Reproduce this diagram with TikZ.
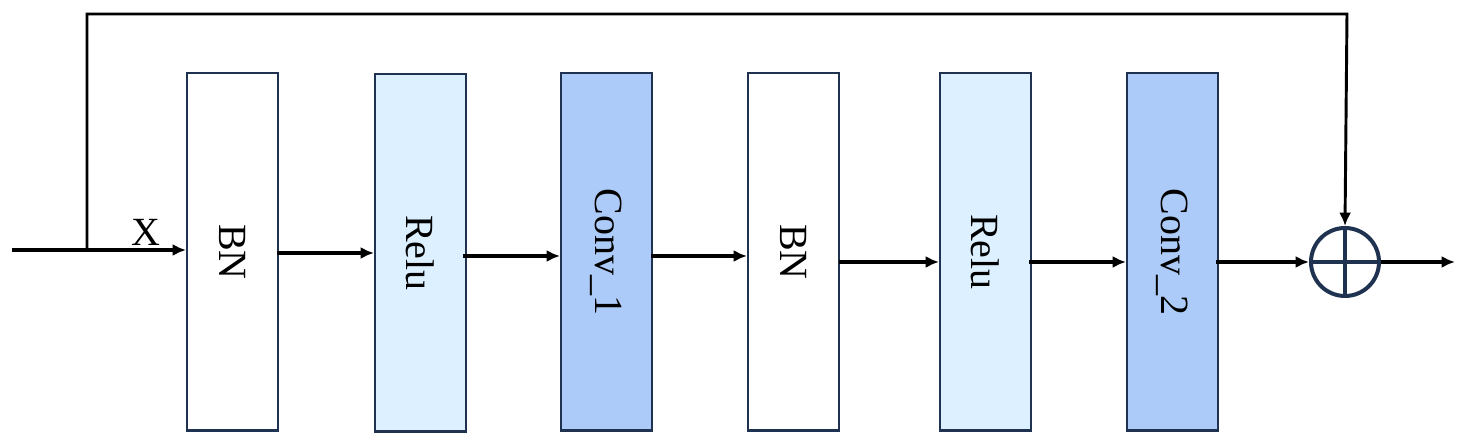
\documentclass[tikz,border=0pt]{standalone}
\usepackage{fontspec}
\setmainfont{Liberation Serif}
\usetikzlibrary{arrows.meta}
\definecolor{edge}{HTML}{1F3350}
\definecolor{lb}{HTML}{DDF0FF}
\definecolor{cb}{HTML}{ADCBF8}
\begin{document}
\begin{tikzpicture}[x=0.75pt,y=-0.75pt,
  blk/.style={draw=edge,line width=1.8pt,minimum width=68pt,minimum height=268pt,anchor=north west,inner sep=0pt},
  lab/.style={rotate=-90,font=\fontsize{30}{32}\selectfont},
  arr/.style={line width=3pt,-{Latex[length=10pt,width=9pt]}},
  ln/.style={line width=3pt}]
\useasboundingbox (0,0) rectangle (1468,448);
\node[blk,fill=white] (b1) at (186,72) {};
\node[lab] at (b1.center) {BN};
\node[blk,fill=lb] (r1) at (374,73) {};
\node[lab] at (r1.center) {Relu};
\node[blk,fill=cb] (c1) at (560,72) {};
\node[lab] at (c1.center) {Conv\_1};
\node[blk,fill=white] (b2) at (747,72) {};
\node[lab] at (b2.center) {BN};
\node[blk,fill=lb] (r2) at (939,72) {};
\node[lab] at (r2.center) {Relu};
\node[blk,fill=cb] (c2) at (1126,72) {};
\node[lab] at (c2.center) {Conv\_2};
\node[circle,draw=edge,line width=3pt,minimum size=51pt,inner sep=0pt] (s) at (1345,262) {};
\draw[edge,line width=3pt] (s.north) -- (s.south) (s.west) -- (s.east);
\coordinate (in) at (12,250);
\coordinate (sp) at (87,250);
\coordinate (out) at (1455,262);
\draw[ln] (in) -- (sp);
\draw[arr] (sp) -- (186,250);
\node[font=\fontsize{30}{32}\selectfont] at (146,232) {X};
\draw[arr] (277,253) -- (374,253);
\draw[arr] (463,256) -- (560,256);
\draw[arr] (651,256) -- (747,256);
\draw[arr] (839,262) -- (939,262);
\draw[arr] (1029,262) -- (1126,262);
\draw[arr] (1216,262) -- (s.west);
\draw[arr] (s.east) -- (out);
\draw[line width=2.2pt,-{Latex[length=10pt,width=9pt]}] (sp) -- (87,14) -- (1347,14) -- (s.north);
\end{tikzpicture}
\end{document}
